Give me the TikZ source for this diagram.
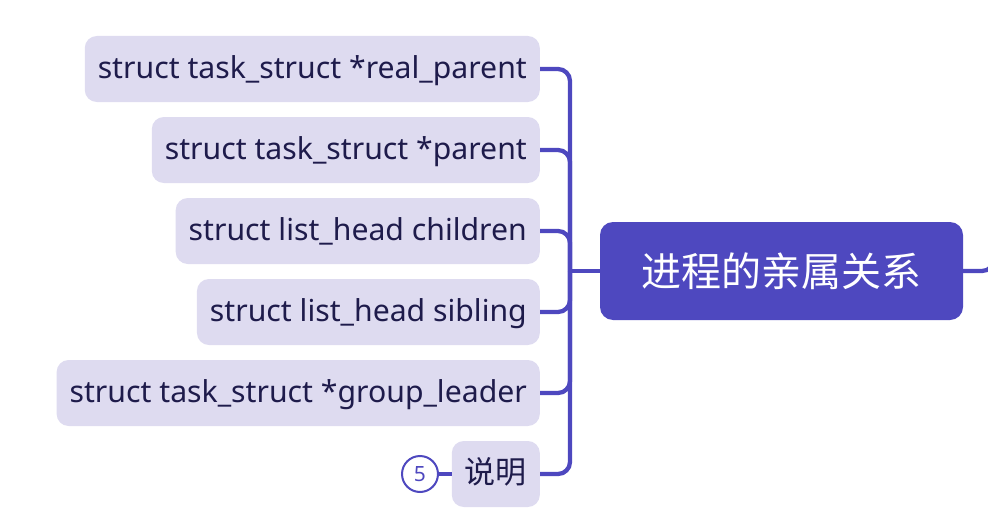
\documentclass[tikz,border=0pt]{standalone}
\usepackage{fontspec}
\setmainfont{Noto Sans}
\newfontfamily\cjk{Noto Sans CJK SC}
\definecolor{leaffill}{HTML}{DEDBF0}
\definecolor{leaftext}{HTML}{1E1B4B}
\definecolor{linkcol}{HTML}{4E48BF}
\tikzset{
	leaf/.style={fill=leaffill,text=leaftext,rounded corners=12pt,anchor=east,
		minimum height=66pt,inner xsep=13pt,text height=22pt,text depth=3pt,
		font=\fontsize{30.2}{34}\selectfont},
	topic/.style={fill=linkcol,text=white,rounded corners=13pt,minimum width=363pt,
		minimum height=98pt,font=\cjk\fontsize{40}{45}\selectfont},
	link/.style={draw=linkcol,line width=4.3pt,rounded corners=12pt},
	badge/.style={circle,draw=linkcol,line width=2pt,fill=white,text=linkcol,
		minimum size=36pt,inner sep=0pt,font=\fontsize{21}{24}\selectfont}
}

\begin{document}
\begin{tikzpicture}[x=1pt,y=-1pt]
	\useasboundingbox (0,0) rectangle (988,519);
	% topic and branches
	\node[topic] (topic) at (781.5,271) {进程的亲属关系};
	\node[leaf] (rp) at (540,69) {struct task\_struct *real\_parent};
	\node[leaf] (par) at (540,150) {struct task\_struct *parent};
	\node[leaf] (chl) at (540,231) {struct list\_head children};
	\node[leaf] (sib) at (540,312) {struct list\_head sibling};
	\node[leaf] (gl) at (540,393) {struct task\_struct *group\_leader};
	\node[leaf,font=\cjk\fontsize{31}{35}\selectfont] (note) at (540,474) {说明};
	\node[badge] (cnt) at (420,474) {5};
	\coordinate (hub) at (570,271);
	\coordinate (out) at (994,180);
	% connectors
	\foreach \b in {rp,par,chl,sib,gl,note}{
		\draw[link] (\b.east) -| (hub);}
	\draw[link] (hub) -- (topic.west);
	\draw[link] (topic.east) -| (out);
	\draw[link] (cnt.east) -- (note.west);
\end{tikzpicture}
\end{document}
